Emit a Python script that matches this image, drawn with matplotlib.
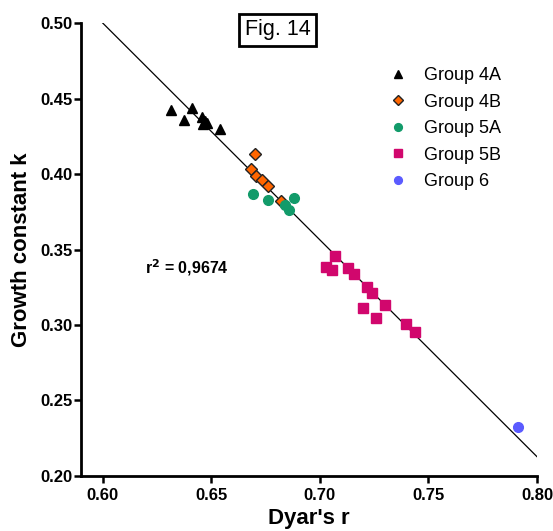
import matplotlib.pyplot as plt

plt.rcParams["font.family"] = ["Liberation Sans", "DejaVu Sans"]

# Group data (Dyar's r, growth constant k)
g4a_x = [0.6313, 0.6413, 0.6373, 0.6455, 0.6470, 0.6462, 0.6478, 0.6542]
g4a_y = [0.4423, 0.4439, 0.4356, 0.4379, 0.4349, 0.4334, 0.4341, 0.4296]

g4b_x = [0.6700, 0.6681, 0.6708, 0.6734, 0.6762, 0.6820]
g4b_y = [0.4135, 0.4030, 0.3990, 0.3962, 0.3920, 0.3820]

g5a_x = [0.6690, 0.6762, 0.6880, 0.6840, 0.6858]
g5a_y = [0.3869, 0.3831, 0.3842, 0.3796, 0.3762]

g5b_x = [0.7069, 0.7028, 0.7057, 0.7128, 0.7158, 0.7218, 0.7238, 0.7298,
         0.7199, 0.7258, 0.7396, 0.7436]
g5b_y = [0.3454, 0.3385, 0.3363, 0.3377, 0.3337, 0.3255, 0.3215, 0.3133,
         0.3115, 0.3046, 0.3006, 0.2953]

g6_x = [0.7914]
g6_y = [0.2324]

# regression line end points
fit_x = [0.60, 0.80]
fit_y = [0.500, 0.2128]

fig = plt.figure(figsize=(5.53, 5.31), dpi=100)
ax = fig.add_axes([0.1465, 0.1036, 0.8245, 0.853])

ax.plot(fit_x, fit_y, color="black", lw=0.9, zorder=1)

ax.plot(g4a_x, g4a_y, "^", color="black", ms=7.5, ls="none", label="Group 4A")
ax.plot(g4b_x, g4b_y, "D", color="#ff6600", mec="#222222", mew=1.0, ms=6,
        ls="none", label="Group 4B")
ax.plot(g5a_x, g5a_y, "o", color="#129b6a", ms=7, ls="none", label="Group 5A")
ax.plot(g5b_x, g5b_y, "s", color="#d1076d", ms=7, ls="none", label="Group 5B")
ax.plot(g6_x, g6_y, "o", color="#5b5bff", ms=7, ls="none", label="Group 6")

ax.set_xlim(0.59, 0.80)
ax.set_ylim(0.20, 0.50)
ax.set_xticks([0.60, 0.65, 0.70, 0.75, 0.80])
ax.set_yticks([0.20, 0.25, 0.30, 0.35, 0.40, 0.45, 0.50])
ax.set_xticklabels(["0.60", "0.65", "0.70", "0.75", "0.80"])
ax.set_yticklabels(["0.20", "0.25", "0.30", "0.35", "0.40", "0.45", "0.50"])

for side in ["top", "right"]:
    ax.spines[side].set_visible(False)
for side in ["left", "bottom"]:
    ax.spines[side].set_linewidth(2)
ax.tick_params(width=1.8, length=5, labelsize=12)
ax.tick_params(axis="y", pad=1)
ax.tick_params(axis="x", pad=4)
for lab in ax.get_xticklabels() + ax.get_yticklabels():
    lab.set_fontweight("bold")

ax.set_xlabel("Dyar's r", fontsize=16, fontweight="bold", labelpad=3)
ax.set_ylabel("Growth constant k", fontsize=16, fontweight="bold", labelpad=6)

ax.text(0.6194, 0.338, "r$^\\mathbf{2}$ = 0,9674", fontsize=11.5,
        fontweight="bold", va="center", ha="left")

ax.text(0.6806, 0.4955, "Fig. 14", fontsize=15.5, ha="center", va="center",
        bbox=dict(boxstyle="square,pad=0.25", fc="white", ec="black", lw=2))

ax.legend(loc="upper left", bbox_to_anchor=(0.635, 0.938), frameon=False,
          fontsize=13, handletextpad=0.85, labelspacing=0.52, handlelength=1.2,
          markerscale=0.8)

fig.savefig("out.png", dpi=100)
